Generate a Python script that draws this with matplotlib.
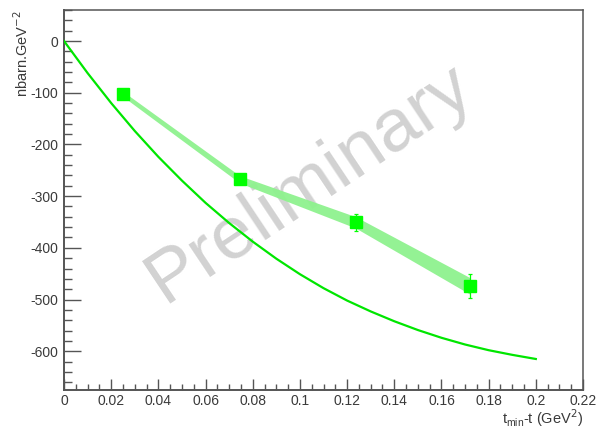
import matplotlib
matplotlib.use("Agg")
import matplotlib.pyplot as plt
from matplotlib.ticker import MultipleLocator
import numpy as np

plt.rcParams['font.family'] = ['Liberation Sans', 'DejaVu Sans']
plt.rcParams['axes.unicode_minus'] = False

# Measured points
t_pts = [0.025, 0.0745, 0.1236, 0.1722]
sig_pts = [-102.5, -267.6, -350.7, -474.0]
stat_err = [5, 6, 17, 24]
band_half = [5, 7, 11, 16]

# Model curve
t_model = [0.0, 0.01, 0.02, 0.03, 0.04, 0.05, 0.06, 0.07, 0.08, 0.09, 0.10,
           0.11, 0.12, 0.13, 0.14, 0.15, 0.16, 0.17, 0.18, 0.19, 0.20]
sig_model = [0, -62, -120, -174, -224, -270, -313, -352, -388, -421, -451,
             -478, -502, -523, -542, -559, -574, -587, -598, -607, -615]

xticks = [0, 0.02, 0.04, 0.06, 0.08, 0.1, 0.12, 0.14, 0.16, 0.18, 0.2, 0.22]
xticklabels = ['0', '0.02', '0.04', '0.06', '0.08', '0.1', '0.12', '0.14',
               '0.16', '0.18', '0.2', '0.22']
yticks = [0, -100, -200, -300, -400, -500, -600]

W, H = 596, 428
fig = plt.figure(figsize=(W / 100, H / 100), dpi=100)
ax = fig.add_axes([64 / W, 1 - 390 / H, (583 - 64) / W, (390 - 10) / H])

lbl_col = '#3a3a3a'
axis_col = '#555555'

# watermark
ax.text(0.0425, -507, 'Preliminary', fontsize=54, color='#d2d2d2',
        rotation=33.7, ha='left', va='baseline', zorder=1,
        rotation_mode='anchor')

# systematic band
lo = np.array(sig_pts) - np.array(band_half)
hi = np.array(sig_pts) + np.array(band_half)
ax.fill_between(t_pts, lo, hi, color='#8ef28e', lw=0, zorder=2, alpha=0.95)

# model curve
ax.plot(t_model, sig_model, color='#00e600', lw=1.6, zorder=3)

# data
ax.errorbar(t_pts, sig_pts, yerr=stat_err, fmt='s', color='#00ff00',
            ms=8, elinewidth=0.9, capsize=1.5, capthick=0.9, zorder=4)

ax.set_xlim(0, 0.22)
ax.set_ylim(-675, 60)

ax.set_xticks(xticks)
ax.set_xticklabels(xticklabels)
ax.set_yticks(yticks)
ax.xaxis.set_minor_locator(MultipleLocator(0.005))
ax.yaxis.set_minor_locator(MultipleLocator(20))

ax.tick_params(axis='x', which='major', direction='in', length=8, width=1.0,
               color=axis_col, labelsize=10, labelcolor=lbl_col, pad=3)
ax.tick_params(axis='x', which='minor', direction='in', length=4, width=1.0,
               color=axis_col)
ax.tick_params(axis='y', which='major', direction='in', length=12, width=1.0,
               color=axis_col, labelsize=10, labelcolor=lbl_col, pad=4)
ax.tick_params(axis='y', which='minor', direction='in', length=6, width=1.0,
               color=axis_col)

for side in ['left', 'bottom']:
    ax.spines[side].set_color(axis_col)
    ax.spines[side].set_linewidth(1.4)
for side in ['top', 'right']:
    ax.spines[side].set_color('#555555')
    ax.spines[side].set_linewidth(1.1)

fig.text(22 / W, 1 - 10 / H, 'nbarn.GeV$^{-2}$', rotation=90, ha='center',
         va='top', fontsize=10.5, color=lbl_col)
fig.text(583 / W, 1 - 424 / H, r'$\mathregular{t_{min}}$-t (GeV$^{2}$)',
         ha='right', va='baseline', fontsize=10.5, color=lbl_col)

fig.savefig('out.png', dpi=100)
